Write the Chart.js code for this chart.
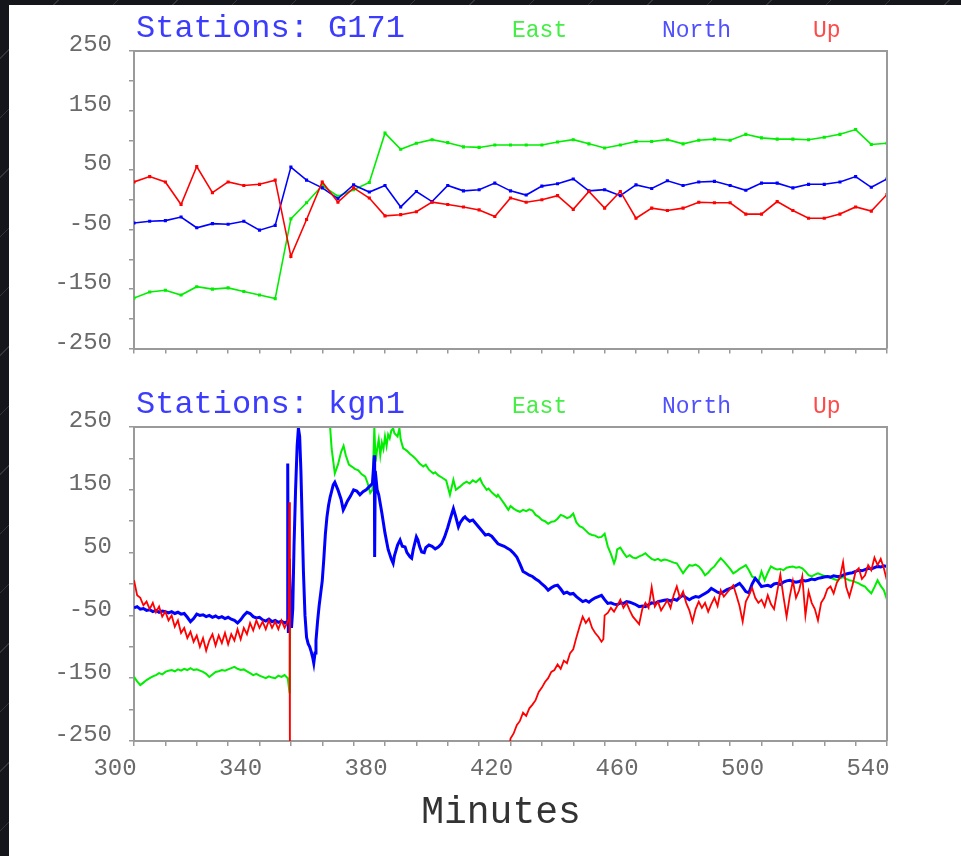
<!DOCTYPE html>
<html><head><meta charset="utf-8">
<script src="https://cdn.jsdelivr.net/npm/chart.js@4.4.1/dist/chart.umd.min.js"></script>
<style>
html,body{margin:0;padding:0;width:961px;height:856px;overflow:hidden;}
body{background:#15161b repeating-linear-gradient(135deg, transparent 0 41px, #34353b 41px 42px);}
#paper{position:absolute;left:9px;top:5px;right:0;bottom:0;background:#fff;}
.wrap{position:absolute;left:0;width:961px;}
#w1{top:0;height:380px;}
#w2{top:380px;height:476px;}
canvas{display:block;}
</style></head><body>
<div id="paper"></div>
<div class="wrap" id="w1"><canvas id="c1" width="961" height="380" style="width:961px;height:380px"></canvas></div>
<div class="wrap" id="w2"><canvas id="c2" width="961" height="476" style="width:961px;height:476px"></canvas></div>
<script>
// ---- Station G171 (5-minute solutions) ----
const minutesG171 = [300,305,310,315,320,325,330,335,340,345,350,355,360,365,370,375,380,385,390,395,400,405,410,415,420,425,430,435,440,445,450,455,460,465,470,475,480,485,490,495,500,505,510,515,520,525,530,535,540];
const eastG171  = [-165,-155,-152,-160,-146,-150,-148,-154,-160,-166,-32,-5,24,6,17,29,112,85,95,101,96,89,88,92,92,92,92,97,101,94,87,92,98,98,101,94,100,102,100,110,104,102,102,101,105,110,118,93,95];
const northG171 = [-39,-36,-35,-29,-47,-40,-41,-36,-51,-43,55,33,20,2,25,13,24,-12,14,-3,24,15,17,28,15,8,23,27,35,15,17,7,25,19,32,24,30,31,24,16,28,28,20,26,26,30,39,21,35];
const upG171    = [30,39,30,-8,56,12,30,24,26,33,-95,-33,30,-4,20,3,-27,-25,-20,-4,-8,-12,-17,-28,3,-4,0,7,-16,14,-14,14,-31,-14,-18,-14,-4,-5,-5,-24,-24,-3,-18,-31,-31,-24,-12,-19,9];

// ---- Station kgn1 ([minute, value] samples) ----
const kgnEast = [[300,-148],[301,-155],[302,-161],[303,-157],[304,-153],[305,-150],[306,-147],[307,-145],[308,-142],[309,-144],[310,-140],[311,-138],[312,-137],[313,-139],[314,-136],[315,-138],[316,-135],[317,-137],[318,-134],[319,-137],[320,-136],[321,-138],[322,-140],[323,-143],[324,-148],[325,-144],[326,-140],[327,-139],[328,-137],[329,-138],[330,-136],[331,-134],[332,-132],[333,-135],[334,-137],[335,-136],[336,-139],[337,-142],[338,-145],[339,-143],[340,-146],[341,-148],[342,-150],[343,-147],[344,-149],[345,-150],[346,-146],[347,-148],[348,-145],[349,-150],[349.6,-174],[349.8,-40],[350,null],[362.2,300],[362.5,250],[363,215],[364,176],[365,190],[366,210],[366.8,220],[367.5,205],[368.5,190],[369.4,187],[370.5,183],[371.5,181],[372.5,175],[373.7,171],[374.5,160],[375.3,145],[376,150],[376.6,250],[377,195],[377.5,215],[378,230],[378.5,205],[379,225],[379.5,215],[380,235],[380.5,220],[381,238],[381.5,232],[382,244],[382.6,248],[383,240],[384,235],[384.6,248],[385,230],[385.8,216],[386.5,214],[387,212],[388,207],[389,203],[390,198],[391,192],[392.2,187],[393,190],[394,182],[395.4,176],[396,178],[397,173],[398,170],[398.6,168],[399.5,165],[400.7,142],[401.8,166],[402.6,150],[403.9,155],[405,160],[406,163],[407,160],[408,165],[409,162],[410.3,168],[411,160],[412.4,150],[413,152],[414,146],[415.6,139],[416,142],[417,135],[418,128],[419.3,118],[420,124],[421,120],[422,117],[423,115],[424,118],[425,116],[426,119],[427,117],[428,110],[429,107],[430,102],[431,100],[432,96],[433,99],[434,100],[435,104],[436,110],[437,108],[438,105],[439,107],[440,112],[441,98],[442,92],[443,90],[444,85],[445,80],[446,78],[447,77],[448,74],[449,75],[450,80],[451,60],[452,48],[453,33],[453.5,40],[454,55],[455,58],[456,50],[457,43],[458,46],[459,42],[460,41],[461,44],[462,46],[463,49],[464,44],[465,40],[466,38],[467,40],[468,37],[469,39],[470,38],[471,36],[472,34],[473,33],[474,25],[475,17],[476,24],[477,30],[478,29],[479,31],[480,28],[481,22],[482,14],[483,18],[484,24],[485,28],[486,35],[487,41],[488,36],[489,30],[490,24],[491,17],[492,20],[493,24],[494,27],[495,30],[496,22],[497,12],[498,9],[499,3],[500,20],[501,6],[502,18],[503,28],[504,25],[505,23],[506,24],[507,22],[508,26],[509,27],[510,28],[511,26],[512,27],[513,25],[514,20],[515,14],[516,12],[517,15],[518,17],[519,15],[520,13],[521,12],[522,10],[523,8],[524,6],[525,9],[526,11],[527,8],[528,6],[529,5],[530,3],[531,1],[532,-2],[533,-4],[534,-10],[535,-15],[536,-5],[537,6],[538,-3],[539,-10],[540,-25]];

const kgnNorth = [[300,-38],[301,-36],[302,-40],[303,-39],[304,-42],[305,-41],[306,-44],[307,-42],[308,-45],[309,-43],[310,-44],[311,-46],[312,-44],[313,-47],[314,-45],[315,-48],[316,-47],[317,-53],[318,-60],[319,-55],[320,-48],[321,-50],[322,-49],[323,-52],[324,-50],[325,-53],[326,-51],[327,-54],[328,-52],[329,-55],[330,-53],[331,-56],[332,-58],[333,-62],[334,-57],[335,-50],[336,-45],[337,-47],[338,-52],[339,-54],[340,-53],[341,-57],[342,-59],[343,-56],[344,-60],[345,-58],[346,-61],[347,-59],[348,-62],[348.8,-60],[349,192],[349.2,-78],[349.5,40],[349.8,-20],[350.2,-70],[350.6,-40],[351,60],[351.5,150],[352,220],[352.4,248],[352.8,235],[353.2,180],[353.6,100],[354,20],[354.5,-50],[355,-85],[355.5,-95],[356,-100],[356.5,-108],[357,-118],[357.3,-126],[357.7,-110],[358,-90],[358.5,-60],[359,-35],[359.5,-15],[360,5],[360.5,40],[361,80],[361.5,107],[362,125],[362.5,138],[363,148],[363.5,158],[364,162],[365,150],[366,135],[366.7,118],[367.3,124],[368,132],[369,140],[370,150],[371,148],[372,142],[373,147],[374,150],[375,155],[376,160],[376.6,205],[376.7,43],[376.9,180],[377.5,150],[378,142],[379,113],[380,81],[381,55],[382,40],[382.6,33],[383,45],[384,62],[384.8,70],[385.5,60],[386.4,59],[387,50],[388,43],[388.5,41],[389,55],[390,75],[390.5,70],[391,60],[391.7,51],[392.5,50],[393,58],[394,62],[395,60],[396,56],[397,59],[398,64],[399,75],[400,90],[400.7,102],[401.3,112],[401.8,120],[402.5,108],[403.4,91],[404,98],[405,105],[405.5,107],[406,104],[407,100],[408,102],[409,96],[410,90],[411,84],[412,78],[413,79],[414,76],[415,70],[416,64],[417,62],[418,60],[419,57],[420,54],[421,49],[422,43],[423,32],[424,20],[425,17],[426,14],[427,12],[428,8],[429,5],[430,0],[431,-4],[432,-10],[433,-6],[434,-3],[435,-2],[436,-8],[437,-15],[438,-13],[439,-16],[440,-15],[441,-20],[442,-24],[443,-28],[444,-26],[445,-29],[446,-25],[447,-22],[448,-20],[449,-18],[450,-25],[451,-31],[452,-30],[453,-32],[454,-33],[455,-30],[456,-31],[457,-28],[458,-29],[459,-31],[460,-33],[461,-36],[462,-35],[463,-36],[464,-33],[465,-30],[466,-31],[467,-28],[468,-27],[469,-26],[470,-25],[471,-27],[472,-24],[473,-26],[474,-21],[475,-18],[476,-22],[477,-25],[478,-22],[479,-20],[480,-21],[481,-18],[482,-15],[483,-12],[484,-7],[485,-10],[486,-13],[487,-15],[488,-12],[489,-9],[490,-7],[491,-5],[492,-2],[493,1],[494,-5],[495,-12],[496,-14],[497,0],[498,9],[499,3],[500,-4],[501,-3],[502,-2],[503,-4],[504,0],[505,1],[506,-1],[507,3],[508,5],[509,6],[510,4],[511,3],[512,4],[513,6],[514,5],[515,6],[516,8],[517,7],[518,9],[519,10],[520,11],[521,12],[522,11],[523,13],[524,12],[525,12],[526,14],[527,16],[528,17],[529,18],[530,20],[531,22],[532,21],[533,23],[534,25],[535,24],[536,26],[537,28],[538,27],[539,29],[540,28]];

const kgnUp = [[300,6],[301,-18],[302,-22],[303,-34],[304,-28],[305,-40],[306,-30],[307,-45],[308,-36],[309,-52],[310,-44],[311,-58],[312,-50],[313,-68],[314,-58],[315,-78],[316,-70],[317,-86],[318,-76],[319,-92],[320,-82],[321,-100],[322,-86],[323,-106],[324,-90],[325,-80],[326,-98],[327,-82],[328,-94],[329,-78],[330,-96],[331,-80],[332,-90],[333,-72],[334,-88],[335,-70],[336,-80],[337,-62],[338,-74],[339,-58],[340,-70],[341,-60],[342,-72],[343,-58],[344,-70],[345,-60],[346,-72],[347,-58],[348,-70],[349,-60],[349.3,-55],[349.5,130],[349.7,-300],[350,null],[419.6,-262],[420,-246],[421,-238],[422,-225],[423,-218],[424,-205],[425,-210],[426,-198],[427,-192],[428,-185],[429,-172],[430,-165],[431,-156],[432,-150],[433,-140],[434,-137],[435,-128],[436,-135],[437,-122],[438,-126],[439,-110],[440,-104],[441,-85],[442,-68],[443,-52],[444,-62],[445,-55],[446,-70],[447,-78],[448,-84],[449,-92],[449.6,-88],[450,-50],[451,-46],[452,-38],[453,-44],[454,-35],[455,-25],[456,-38],[457,-30],[458,-42],[459,-52],[460,-58],[461,-64],[462,-40],[463,-30],[464,-38],[465,-5],[466,-36],[467,-28],[468,-42],[469,-34],[470,-26],[471,-38],[472,-18],[473,-4],[474,-22],[475,-12],[476,-30],[477,-42],[478,-60],[479,-40],[480,-28],[481,-38],[482,-30],[483,-44],[484,-32],[485,-22],[486,-35],[487,-10],[488,-20],[489,-14],[490,-8],[491,-2],[492,-18],[493,-35],[494,-60],[495,-28],[496,-18],[497,-6],[498,-22],[499,-30],[500,-25],[501,-36],[502,-18],[503,-32],[504,-40],[505,-12],[506,15],[507,-20],[508,-52],[509,-20],[510,5],[511,-22],[512,-10],[513,12],[514,-50],[515,-12],[516,-30],[517,-40],[518,-58],[519,-30],[520,-22],[521,-8],[522,-4],[523,-15],[524,2],[525,10],[526,35],[527,-5],[528,-20],[529,-2],[530,20],[531,25],[532,8],[533,14],[534,30],[535,22],[536,42],[537,30],[538,40],[539,25],[540,5]];

const seriesNames = ['East','North','Up'];
const seriesColors = {East:'#00ee00', North:'#0000ff', Up:'#ff0000'};
const legendTextColors = {East:'#44ee44', North:'#5050ff', Up:'#ff4a4a'};
const yTicks = [-250,-150,-50,50,150,250];
const xTickLabels = [300,340,380,420,460,500,540];
const xAxisTitle = 'Minutes';

const MONO = "'Liberation Mono','Courier New',monospace";

const headerPlugin = {
  id: 'header',
  afterDraw(chart, args, opts) {
    const ctx = chart.ctx, a = chart.chartArea;
    ctx.save();
    ctx.textBaseline = 'alphabetic';
    ctx.textAlign = 'left';
    ctx.font = '32px ' + MONO;
    ctx.fillStyle = '#3c3cff';
    ctx.fillText(opts.title, a.left + 2, opts.baseline);
    ctx.font = '23px ' + MONO;
    const offs = [378, 528, 679];
    seriesNames.forEach((n, i) => {
      ctx.fillStyle = legendTextColors[n];
      ctx.fillText(n, a.left + offs[i], opts.baseline);
    });
    if (opts.xTitle) {
      ctx.font = '38px ' + MONO;
      ctx.fillStyle = '#333';
      ctx.textAlign = 'center';
      ctx.fillText(opts.xTitle, a.left + 367, opts.xTitleBaseline);
    }
    // top and right frame lines
    ctx.strokeStyle = '#9a9a9a';
    ctx.lineWidth = 2;
    ctx.beginPath();
    ctx.moveTo(a.left, a.top); ctx.lineTo(a.right, a.top); ctx.lineTo(a.right, a.bottom);
    ctx.stroke();
    ctx.restore();
  }
};

function scales(showX, xHeight) {
  return {
    x: {
      type: 'linear', min: 300, max: 540,
      afterFit(s) { s.height = xHeight; },
      ticks: {
        stepSize: 10, autoSkip: false, maxRotation: 0, includeBounds: true,
        callback: v => (showX && xTickLabels.includes(v)) ? String(v) : '',
        labelOffset: -19, padding: 8,
        font: {family: MONO, size: 24}, color: '#6a6a6a'
      },
      grid: {drawOnChartArea: false, drawTicks: true, tickLength: 5, color: '#999', lineWidth: 1.5},
      border: {display: true, color: '#9a9a9a', width: 2}
    },
    y: {
      type: 'linear', min: -250, max: 250,
      afterFit(s) { s.width = 134; },
      ticks: {
        stepSize: 50, autoSkip: false,
        callback: v => yTicks.includes(v) ? String(v) : '',
        padding: 17, labelOffset: -6,
        font: {family: MONO, size: 24}, color: '#6a6a6a'
      },
      grid: {drawOnChartArea: false, drawTicks: true, tickLength: 5, color: '#999', lineWidth: 1.5},
      border: {display: true, color: '#9a9a9a', width: 2}
    }
  };
}

const commonPlugins = {legend: {display: false}, tooltip: {enabled: false}};

// Top chart
const topSeries = {East: eastG171, North: northG171, Up: upG171};
new Chart(document.getElementById('c1'), {
  type: 'line',
  data: {
    datasets: ['Up','North','East'].map(n => ({
      label: n,
      data: minutesG171.map((m, i) => ({x: m, y: topSeries[n][i]})),
      borderColor: seriesColors[n], backgroundColor: seriesColors[n],
      borderWidth: 1.6, pointStyle: 'rect', pointRadius: 2.2, pointBorderWidth: 0,
      pointBackgroundColor: seriesColors[n], tension: 0, clip: 0
    }))
  },
  options: {
    responsive: false, animation: false, devicePixelRatio: 1,
    layout: {padding: {top: 51, right: 74, left: 0, bottom: 0}},
    scales: scales(false, 16),
    plugins: Object.assign({header: {title: 'Stations: G171', baseline: 37}}, commonPlugins)
  },
  plugins: [headerPlugin]
});

// Bottom chart
const bottomSeries = {East: kgnEast, North: kgnNorth, Up: kgnUp};
const widths = {East: 2, North: 3, Up: 1.8};
new Chart(document.getElementById('c2'), {
  type: 'line',
  data: {
    datasets: ['Up','North','East'].map(n => ({
      label: n,
      data: bottomSeries[n].map(p => ({x: p[0], y: p[1]})),
      borderColor: seriesColors[n], backgroundColor: seriesColors[n],
      borderWidth: widths[n], pointRadius: 0, tension: 0, clip: 0, spanGaps: false
    }))
  },
  options: {
    responsive: false, animation: false, devicePixelRatio: 1,
    layout: {padding: {top: 47, right: 74, left: 0, bottom: 0}},
    scales: scales(true, 115),
    plugins: Object.assign({header: {title: 'Stations: kgn1', baseline: 33, xTitle: xAxisTitle, xTitleBaseline: 443}}, commonPlugins)
  },
  plugins: [headerPlugin]
});
</script>
</body></html>
